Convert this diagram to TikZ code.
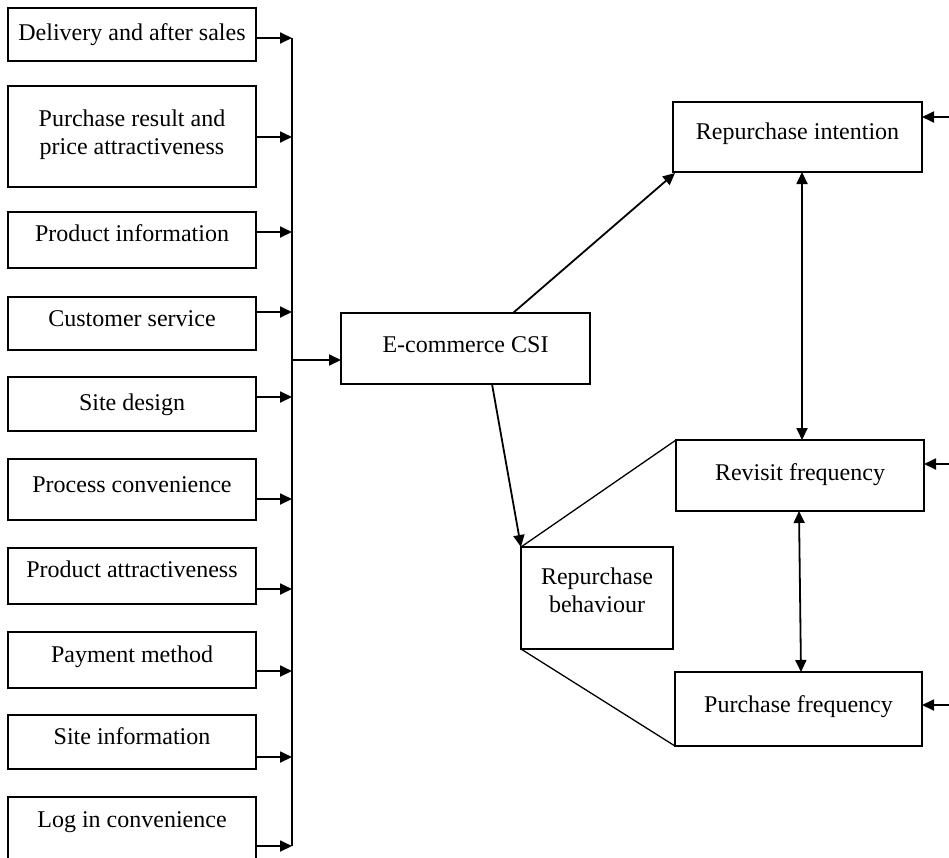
\documentclass[tikz,border=0pt]{standalone}
\usepackage{fontspec}
\setmainfont{Liberation Serif}
\usetikzlibrary{arrows.meta}
\begin{document}
\begin{tikzpicture}[x=1pt,y=-1pt,
  box/.style={draw,line width=1.7pt,rectangle,inner sep=0pt,outer sep=0pt},
  txt/.style={inner sep=0pt,anchor=base,align=center,font=\fontsize{24}{28}\selectfont},
  arr/.style={line width=1.8pt,-{Triangle[length=12pt,width=11pt]}},
  darr/.style={line width=1.8pt,{Triangle[length=12pt,width=11pt]}-{Triangle[length=12pt,width=11pt]}},
  thin/.style={line width=1.3pt}]
\useasboundingbox (0,0) rectangle (949,857);
\clip (0,0) rectangle (949,857);

% factor boxes on the left
\node[box,minimum width=248pt,minimum height=53pt]  (b1)  at (132,34.5) {};
\node[box,minimum width=248pt,minimum height=101pt] (b2)  at (132,136.5) {};
\node[box,minimum width=248pt,minimum height=56pt]  (b3)  at (132,240) {};
\node[box,minimum width=248pt,minimum height=53pt]  (b4)  at (132,323.5) {};
\node[box,minimum width=248pt,minimum height=54pt]  (b5)  at (132,404) {};
\node[box,minimum width=248pt,minimum height=61pt]  (b6)  at (132,489.5) {};
\node[box,minimum width=248pt,minimum height=56pt]  (b7)  at (132,576) {};
\node[box,minimum width=248pt,minimum height=56pt]  (b8)  at (132,660) {};
\node[box,minimum width=248pt,minimum height=54pt]  (b9)  at (132,742) {};
\node[box,minimum width=248pt,minimum height=83pt]  (b10) at (132,838.5) {};

% multi-line labels are placed by the baseline of their last line
\node[txt] (l1)  at (132,40)    {Delivery and after sales};
\node[txt] (l2)  at (132,154)   {Purchase result and\\price attractiveness};
\node[txt] (l3)  at (132,241)   {Product information};
\node[txt] (l4)  at (132,326.5) {Customer service};
\node[txt] (l5)  at (132,410.5) {Site design};
\node[txt] (l6)  at (132,492)   {Process convenience};
\node[txt] (l7)  at (132,577)   {Product attractiveness};
\node[txt] (l8)  at (132,662)   {Payment method};
\node[txt] (l9)  at (132,744)   {Site information};
\node[txt] (l10) at (132,827)   {Log in convenience};

% central index and outcome boxes
\node[box,minimum width=249pt,minimum height=71pt]  (csi) at (465.5,348.5) {};
\node[box,minimum width=249pt,minimum height=70pt]  (ri)  at (797.5,137) {};
\node[box,minimum width=248pt,minimum height=71pt]  (rf)  at (800,475.5) {};
\node[box,minimum width=247pt,minimum height=74pt]  (pf)  at (798.5,709) {};
\node[box,minimum width=152pt,minimum height=102pt] (rb)  at (597,598) {};

\node[txt] (lcsi) at (465.5,352.5) {E-commerce CSI};
\node[txt] (lri)  at (797.5,139.5) {Repurchase intention};
\node[txt] (lrf)  at (800,480)     {Revisit frequency};
\node[txt] (lpf)  at (798.5,712)   {Purchase frequency};
\node[txt] (lrb)  at (597,612.5)   {Repurchase\\behaviour};

% collecting bus
\coordinate (t1)  at (292,38);
\coordinate (t2)  at (292,137);
\coordinate (t3)  at (292,232);
\coordinate (t4)  at (292,312);
\coordinate (t5)  at (292,397);
\coordinate (t6)  at (292,499);
\coordinate (t7)  at (292,589);
\coordinate (t8)  at (292,671);
\coordinate (t9)  at (292,757);
\coordinate (t10) at (292,846);
\coordinate (j)   at (292,360);
\draw[line width=1.8pt] (t1) -- (t10);
\foreach \i in {1,...,10} {
  \draw[arr] (b\i.east |- t\i) -- (t\i);
}
\draw[arr] (j) -- (csi.west |- j);

% paths out of the index
\draw[arr] ([xshift=172pt]csi.north west) -- ([xshift=2pt,yshift=-1pt]ri.south west);
\draw[arr] ([xshift=151pt]csi.south west) -- (rb.north west);
\draw[thin] (rb.north west) -- (rf.north west);
\draw[thin] (rb.south west) -- (pf.south west);
\draw[darr] ([xshift=4.5pt]ri.south) -- ([xshift=2pt]rf.north);
\draw[darr] ([xshift=-1pt]rf.south) -- ([xshift=2.5pt]pf.north);

% incoming arrows on the right
\coordinate (e1) at (949,117);
\coordinate (e2) at (949,464);
\coordinate (e3) at (949,705);
\draw[arr] (e1) -- (ri.east |- e1);
\draw[arr] (e2) -- (rf.east |- e2);
\draw[arr] (e3) -- (pf.east |- e3);
\end{tikzpicture}
\end{document}
